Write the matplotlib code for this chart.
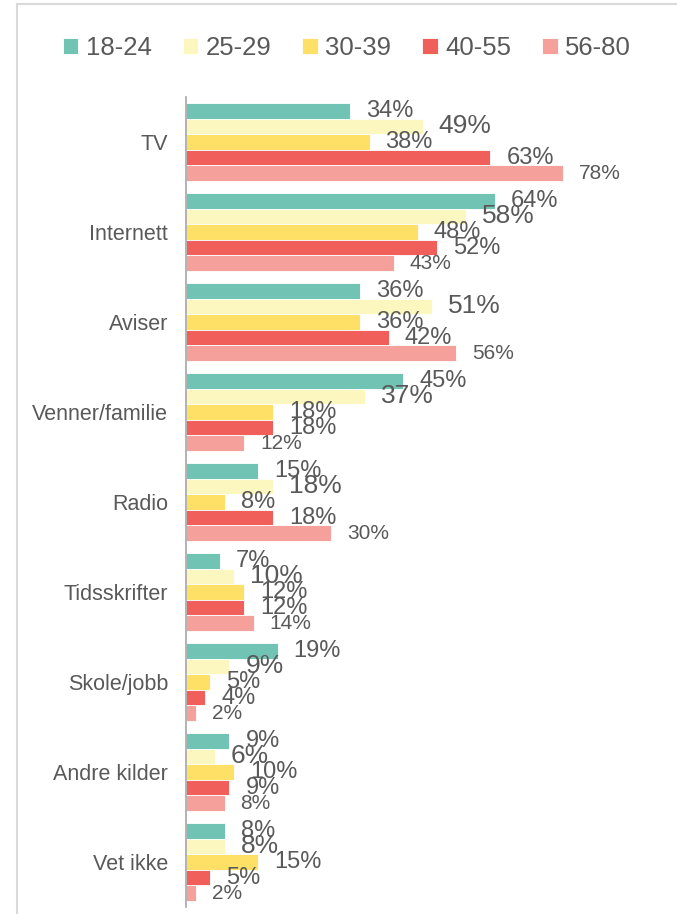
import numpy as np
from matplotlib import pyplot as plt
from matplotlib.lines import Line2D

plt.rcParams['font.family'] = ['Liberation Sans', 'DejaVu Sans']

categories = ["TV", "Internett", "Aviser", "Venner/familie", "Radio",
              "Tidsskrifter", "Skole/jobb", "Andre kilder", "Vet ikke"]
groups = ["18-24", "25-29", "30-39", "40-55", "56-80"]

v_18_24 = [34, 64, 36, 45, 15, 7, 19, 9, 8]
v_25_29 = [49, 58, 51, 37, 18, 10, 9, 6, 8]
v_30_39 = [38, 48, 36, 18, 8, 12, 5, 10, 15]
v_40_55 = [63, 52, 42, 18, 18, 12, 4, 9, 5]
v_56_80 = [78, 43, 56, 12, 30, 14, 2, 8, 2]
series = [v_18_24, v_25_29, v_30_39, v_40_55, v_56_80]

colors = ["#71C4B4", "#FCF7BE", "#FDE065", "#F05F5A", "#F6A09C"]
label_sizes = [17, 19, 17, 17, 15]
text_col = "#595959"

fig = plt.figure(figsize=(6.77, 9.14), dpi=100)
ax = fig.add_axes([186 / 677, 7 / 914, 483 / 677, 810 / 914])

# light frame around chart (left and top only visible)
fig.add_artist(Line2D([16.5 / 677, 16.5 / 677], [0, 1 - 3.5 / 914],
                      transform=fig.transFigure, color="#D9D9D9", lw=1.5))
fig.add_artist(Line2D([16.5 / 677, 1], [1 - 3.5 / 914, 1 - 3.5 / 914],
                      transform=fig.transFigure, color="#D9D9D9", lw=1.5))

y = np.arange(len(categories))
h = 0.173
for i, (vals, c, g) in enumerate(zip(series, colors, groups)):
    pos = y - 2 * h + i * h
    ax.barh(pos, vals, height=h, color=c, edgecolor="white", linewidth=0.6, label=g)
    for p, v in zip(pos, vals):
        ax.annotate(f"{v}%", (v, p), xytext=(11.5, 0), textcoords="offset points",
                    va="center", ha="left", fontsize=label_sizes[i], color=text_col)

ax.set_xlim(0, 100)
ax.set_ylim(8.5, -0.5)
ax.set_yticks(y)
ax.set_yticklabels(categories, fontsize=15.5, color=text_col)
ax.tick_params(axis="y", length=0, pad=13)
ax.set_xticks([])
for s in ["top", "right", "bottom"]:
    ax.spines[s].set_visible(False)
ax.spines["left"].set_color("#A6A6A6")
ax.spines["left"].set_linewidth(1.2)

fig.legend(loc="center", bbox_to_anchor=(347 / 677, 1 - 48 / 914), ncol=5, frameon=False,
           fontsize=18.5, handlelength=0.6, handleheight=0.6, handletextpad=0.3,
           columnspacing=1.2, labelcolor=text_col, borderpad=0, borderaxespad=0)

fig.savefig("out.png", dpi=100)
